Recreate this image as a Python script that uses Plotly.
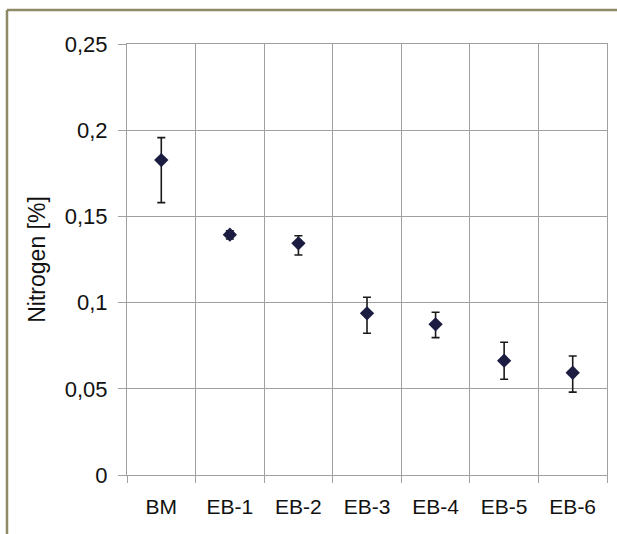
import plotly.graph_objects as go

categories = ["BM", "EB-1", "EB-2", "EB-3", "EB-4", "EB-5", "EB-6"]
nitrogen = [0.1827, 0.1394, 0.1344, 0.0938, 0.0874, 0.0663, 0.0593]
err_plus = [0.0130, 0.0022, 0.0044, 0.0093, 0.0070, 0.0107, 0.0097]
err_minus = [0.0247, 0.0025, 0.0068, 0.0116, 0.0077, 0.0108, 0.0112]
y_tickvals = [0, 0.05, 0.1, 0.15, 0.2, 0.25]
y_ticktext = ["0", "0,05", "0,1", "0,15", "0,2", "0,25"]

W, H = 617, 534
L, R, T, B = 127, 10, 44, 59
pw, ph = W - L - R, H - T - B

fig = go.Figure()
fig.add_trace(go.Scatter(
    x=categories, y=nitrogen, mode="markers",
    marker=dict(symbol="diamond", size=11, color="#1c1c42"),
    error_y=dict(type="data", symmetric=False, array=err_plus, arrayminus=err_minus,
                 color="#1a1a1a", thickness=1.6, width=4),
    showlegend=False,
))

# olive outer frame (left and top edges)
fx0 = (7 - L) / pw
fy1 = (H - B - 10) / ph
fy0 = (H - B - H - 5) / ph
fx1 = (W - L + 5) / pw
frame_color = "#8e8a68"
fig.add_shape(type="line", xref="paper", yref="paper", x0=fx0, x1=fx0, y0=fy0, y1=fy1,
              line=dict(color=frame_color, width=2.5))
fig.add_shape(type="line", xref="paper", yref="paper", x0=fx0, x1=fx1, y0=fy1, y1=fy1,
              line=dict(color=frame_color, width=2.5))

grid = "#a0a0a0"
fig.update_layout(
    width=W, height=H,
    margin=dict(l=L, r=R, t=T, b=B, pad=0),
    paper_bgcolor="white", plot_bgcolor="white",
    font=dict(family="Liberation Sans, Arial, sans-serif", size=22, color="#111111"),
    xaxis=dict(type="category", tickson="boundaries", showgrid=True, gridcolor=grid, gridwidth=1,
               ticks="outside", ticklen=7, tickcolor=grid, showline=True, linecolor=grid,
               mirror=True, range=[-0.5, 6.5], zeroline=False, tickfont=dict(size=21),
               ticklabelstandoff=13),
    yaxis=dict(range=[0, 0.25], tickvals=y_tickvals, ticktext=y_ticktext, showgrid=True,
               gridcolor=grid, gridwidth=1, ticks="outside", ticklen=8, tickcolor=grid,
               showline=True, linecolor=grid, mirror=True, zeroline=False,
               tickfont=dict(size=22), ticklabelstandoff=6,
               title=dict(text="Nitrogen [%]", font=dict(size=23), standoff=12)),
)

fig.write_html("out.html", config={"displayModeBar": False},
               post_script="document.body.style.margin='0';document.body.style.padding='0';")
